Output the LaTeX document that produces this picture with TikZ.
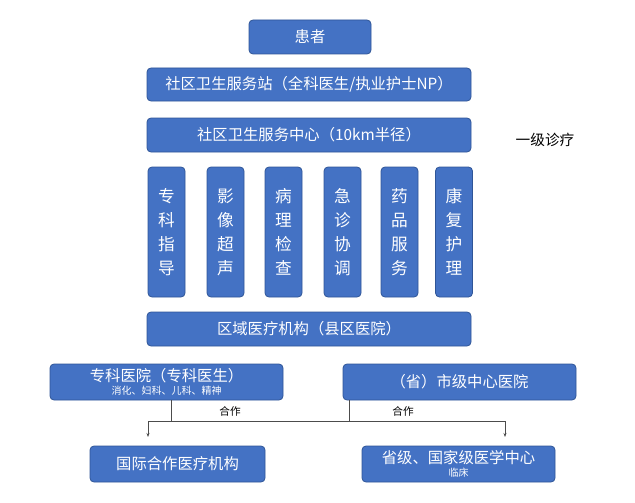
\documentclass[tikz,border=0pt]{standalone}
\usepackage{fontspec}
\setmainfont{Noto Sans CJK SC}
\usetikzlibrary{arrows.meta}
\definecolor{bx}{HTML}{4472C4}
\definecolor{bxd}{HTML}{2F5597}
\begin{document}
\begin{tikzpicture}[x=0.75pt,y=-0.75pt,
  box/.style={fill=bx,draw=bxd,line width=0.6pt,rounded corners=3pt,text=white,align=center,inner sep=0pt},
  wh/.style 2 args={minimum width={#1*0.75pt},minimum height={#2*0.75pt}},
  lbl/.style={font=\fontsize{8}{9}\selectfont,text=black},
  ln/.style={draw=black!70,line width=0.6pt}]
\useasboundingbox (0,0) rectangle (635,503);
\node[box,wh={122}{34},font=\fontsize{11.5}{13}\selectfont] (p) at (310,37) {患者};
\node[box,wh={324}{33},font=\fontsize{11.5}{13}\selectfont] (z) at (309,84.5) {社区卫生服务站（全科医生/执业护士NP）};
\node[box,wh={324}{34},font=\fontsize{11.5}{13}\selectfont] (c) at (309,135) {社区卫生服务中心（10km半径）};
\node[lbl,font=\fontsize{11}{13}\selectfont] (y) at (545,140) {一级诊疗};
\foreach \n/\x/\t in {a/166.5/专\\科\\指\\导, b/225.5/影\\像\\超\\声, d/283.5/病\\理\\检\\查, e/342.5/急\\诊\\协\\调, f/399.5/药\\品\\服\\务, g/454/康\\复\\护\\理}
  \node[box,wh={37}{130},font=\fontsize{12.5}{18}\selectfont] (\n) at (\x,232) {\t};
\node[box,wh={324}{34},font=\fontsize{11.5}{13}\selectfont] (r) at (309,329) {区域医疗机构（县区医院）};
\node[box,wh={233}{36},font=\fontsize{11.5}{11}\selectfont] (s) at (166.5,382) {专科医院（专科医生）\\[-1pt]{\fontsize{7.5}{8}\selectfont 消化、妇科、儿科、精神}};
\node[box,wh={233}{36},font=\fontsize{11.5}{13}\selectfont] (m) at (459.5,382) {（省）市级中心医院};
\node[box,wh={175}{36},font=\fontsize{11.5}{13}\selectfont] (i) at (177.5,464) {国际合作医疗机构};
\node[box,wh={193}{36},font=\fontsize{11.5}{11}\selectfont] (n) at (458.5,464) {省级、国家级医学中心\\[-1pt]{\fontsize{7.5}{8}\selectfont 临床}};
\coordinate (jl) at (148,421);
\coordinate (jr) at (505,421);
\draw[ln] (s.south -| 171,0) -- (171,421);
\draw[ln] (m.south -| 349,0) -- (349,421);
\draw[ln] (jl) -- (jr);
\draw[ln,-{Stealth[length=3pt]}] (jl) -- (148,437);
\draw[ln,-{Stealth[length=3pt]}] (jr) -- (505,437);
\node[lbl] (h1) at (230,411) {合作};
\node[lbl] (h2) at (403,411) {合作};
\end{tikzpicture}
\end{document}
